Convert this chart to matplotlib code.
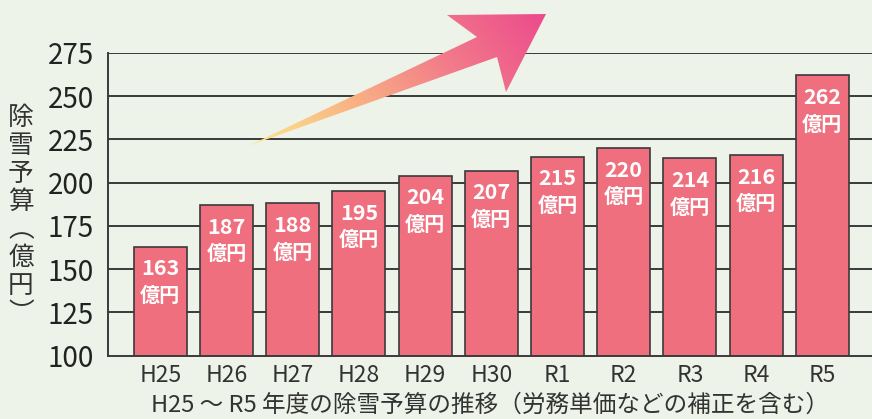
import numpy as np
import matplotlib
matplotlib.use("Agg")
import matplotlib.pyplot as plt
from matplotlib.patches import Polygon
from matplotlib.colors import LinearSegmentedColormap

# =================================
# DATA
# =================================

years = ["H25", "H26", "H27", "H28", "H29", "H30", "R1", "R2", "R3", "R4", "R5"]
budget = [163, 187, 188, 195, 204, 207, 215, 220, 214, 216, 262]
y_ticks = [100, 125, 150, 175, 200, 225, 250, 275]

x_label = "H25 ～ R5 年度の除雪予算の推移（労務単価などの補正を含む）"
y_label = "除雪予算︵億円︶"
unit = "億円"

# =================================
# STYLE
# =================================

bg = "#eef3e9"
bar_color = "#f06f7e"
line_color = "#3a3a3a"
text_color = "#333333"

plt.rcParams["font.family"] = ["Noto Sans CJK JP", "DejaVu Sans"]

fig = plt.figure(figsize=(8.72, 4.19), dpi=100, facecolor=bg)
ax = fig.add_axes([108 / 872, 63.5 / 419, 1 - 108 / 872, 302.5 / 419])
ax.set_facecolor(bg)

x = np.arange(len(years))

# grid lines behind bars
for t in y_ticks[1:]:
    ax.axhline(t, color=line_color, linewidth=1.4, zorder=1)

ax.bar(
    x,
    budget,
    width=0.8,
    color=bar_color,
    edgecolor=line_color,
    linewidth=1.2,
    zorder=2,
)

# =================================
# VALUE LABELS
# =================================

for i, v in enumerate(budget):
    ax.annotate(
        str(v),
        (i, v),
        xytext=(0, -16),
        textcoords="offset points",
        ha="center",
        va="center",
        color="white",
        fontsize=15.5,
        fontweight="bold",
        zorder=3,
    )
    ax.annotate(
        unit,
        (i, v),
        xytext=(0, -35),
        textcoords="offset points",
        ha="center",
        va="center",
        color="white",
        fontsize=14.5,
        fontweight="bold",
        zorder=3,
    )

# =================================
# AXES
# =================================

ax.set_xlim(-0.79, 10.75)
ax.set_ylim(100, 275)
ax.set_yticks(y_ticks)
ax.set_xticks(x)
ax.set_xticklabels(years)

for side in ["top", "right"]:
    ax.spines[side].set_visible(False)
for side in ["left", "bottom"]:
    ax.spines[side].set_color(line_color)
    ax.spines[side].set_linewidth(1.4)

ax.tick_params(axis="y", length=0, pad=10, labelsize=20, labelcolor="#222222")
ax.tick_params(axis="x", length=0, pad=6, labelsize=16.5, labelcolor=text_color)

ax.set_xlabel(x_label, fontsize=17, color=text_color, labelpad=5)

fig.text(
    21 / 872,
    1 - 216 / 419,
    "\n".join(y_label),
    ha="center",
    va="center",
    fontsize=18.5,
    color=text_color,
    linespacing=1.1,
)

# =================================
# GRADIENT ARROW (decoration)
# =================================

ov = fig.add_axes([0, 0, 1, 1], zorder=5)
ov.axis("off")
ov.patch.set_alpha(0)

arrow_pts = [
    (248, 146),
    (477, 37),
    (447, 15),
    (546, 14),
    (506, 92),
    (497, 57),
]
poly = Polygon(arrow_pts, closed=True, facecolor="none", edgecolor="none")
ov.add_patch(poly)

cmap = LinearSegmentedColormap.from_list(
    "arrow", ["#fde88f", "#f9b483", "#f27a8a", "#ec4a8c"]
)
gx = np.linspace(0, 1, 300)
gy = np.linspace(0, 1, 150)
GX, GY = np.meshgrid(gx, gy)
grad = GX * 0.75 + (1 - GY) * 0.25
img = ov.imshow(
    grad,
    cmap=cmap,
    extent=(248, 546, 146, 14),
    origin="upper",
    aspect="auto",
    interpolation="bilinear",
)
img.set_clip_path(poly)
ov.set_xlim(0, 872)
ov.set_ylim(419, 0)

fig.savefig("out.png", dpi=100, facecolor=bg)
